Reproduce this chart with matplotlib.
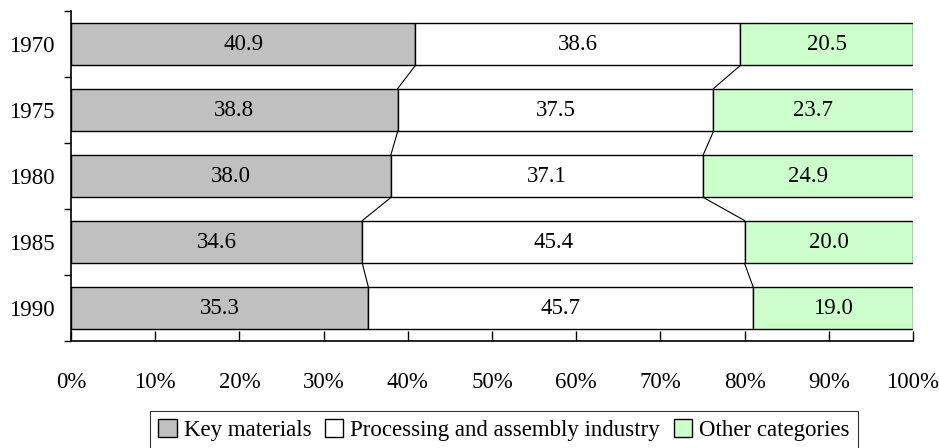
import numpy as np
import matplotlib.pyplot as plt
from matplotlib.ticker import FixedLocator, PercentFormatter

plt.rcParams['font.family'] = ['Liberation Serif', 'DejaVu Serif']

# data
years = ['1970', '1975', '1980', '1985', '1990']
key_materials = [40.9, 38.8, 38.0, 34.6, 35.3]
processing = [38.6, 37.5, 37.1, 45.4, 45.7]
other = [20.5, 23.7, 24.9, 20.0, 19.0]

series = [key_materials, processing, other]
names = ['Key materials', 'Processing and assembly industry', 'Other categories']
colors = ['#c0c0c0', '#ffffff', '#ccffcc']

fs = 16.5

fig = plt.figure(figsize=(9.39, 4.48), dpi=100)
ax = fig.add_axes([71 / 939, 1 - 341 / 448, 842 / 939, 330 / 448])

y = np.arange(len(years))
h = 0.65
left = np.zeros(len(years))
for vals, name, c in zip(series, names, colors):
    vals = np.array(vals)
    ax.barh(y, vals, left=left, height=h, color=c, edgecolor='black',
            linewidth=1, label=name)
    for yi, l, v in zip(y, left, vals):
        ax.text(l + v / 2, yi, f'{v:.1f}', ha='center', va='center', fontsize=fs)
    left = left + vals

# series lines between bars
cum = np.cumsum(np.array(series), axis=0)
for k in range(2):
    for i in range(len(years) - 1):
        ax.plot([cum[k][i], cum[k][i + 1]], [y[i] + h / 2, y[i + 1] - h / 2],
                color='black', linewidth=0.8)

ax.set_xlim(0, 100)
ax.set_ylim(len(years) - 0.5, -0.5)
ax.xaxis.set_major_locator(FixedLocator(np.arange(0, 101, 10)))
ax.xaxis.set_major_formatter(PercentFormatter(decimals=0))
ax.set_yticks(y)
ax.set_yticklabels(years)
ax.yaxis.set_minor_locator(FixedLocator(np.arange(-0.5, len(years), 1.0)))
ax.tick_params(axis='y', which='major', length=0, labelsize=fs, pad=12)
ax.tick_params(axis='y', which='minor', length=5, width=1, direction='out')
ax.tick_params(axis='x', direction='in', length=7, width=1, labelsize=fs, pad=22)
for s in ['top', 'right']:
    ax.spines[s].set_visible(False)
for s in ['left', 'bottom']:
    ax.spines[s].set_linewidth(1.2)

leg = fig.legend(loc='center', bbox_to_anchor=(504 / 939, 1 - 430 / 448), ncol=3,
                 fontsize=fs, frameon=True, fancybox=False, edgecolor='black',
                 handlelength=0.8, handleheight=0.8, handletextpad=0.3,
                 columnspacing=0.6, borderpad=0.35, borderaxespad=0)
leg.get_frame().set_linewidth(0.8)

fig.savefig('out.png', dpi=100)
